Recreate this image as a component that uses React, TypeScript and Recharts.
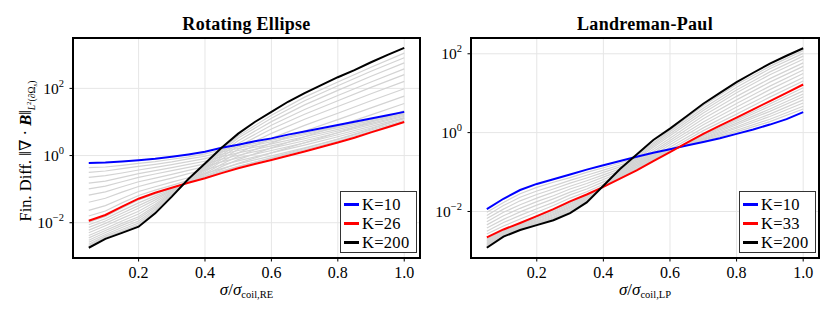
import React from 'react';
import { CartesianGrid, Legend, Line, LineChart, ReferenceArea, XAxis, YAxis } from 'recharts';

const FONT = "'Liberation Serif', 'DejaVu Serif', serif";

// sigma / sigma_coil, main series sampled every 0.05
const xs = [0.05, 0.1, 0.15, 0.2, 0.25, 0.3, 0.35, 0.4, 0.45, 0.5, 0.55, 0.6, 0.65, 0.7, 0.75, 0.8, 0.85, 0.9, 0.95, 1.0];
// grid used for the grey intermediate-K curves
const xsGray = [0.05, 0.1, 0.15, 0.2, 0.25, 0.3, 0.35, 0.4, 0.45, 0.5, 0.6, 0.7, 0.8, 0.9, 1.0];

const xTicks = [0.2, 0.4, 0.6, 0.8, 1.0];
const yTicks = [0.01, 1, 100];

// Rotating Ellipse
const blueRE = [0.6, 0.62, 0.66, 0.72, 0.8, 0.92, 1.08, 1.3, 1.7, 2.1, 2.65, 3.25, 4.2, 5.2, 6.5, 8.1, 10.1, 12.6, 15.8, 20];
const redRE = [0.0115, 0.017, 0.03, 0.052, 0.078, 0.11, 0.155, 0.21, 0.3, 0.42, 0.56, 0.74, 0.99, 1.32, 1.8, 2.45, 3.4, 4.9, 7.0, 10];
const blackRE = [0.0018, 0.0033, 0.005, 0.0076, 0.019, 0.06, 0.2, 0.58, 1.7, 4.5, 10, 20, 40, 72, 125, 215, 350, 600, 1000, 1600];

// grey curves, log10 of the value on xsGray
const grayExpRE = [
  [-0.36, -0.34, -0.29, -0.23, -0.18, -0.11, -0.04, 0.05, 0.17, 0.26, 0.46, 0.66, 0.87, 1.07, 1.28],
  [-0.5, -0.46, -0.39, -0.32, -0.26, -0.19, -0.1, -0.02, 0.11, 0.21, 0.41, 0.62, 0.83, 1.03, 1.25],
  [-0.65, -0.6, -0.52, -0.43, -0.35, -0.27, -0.18, -0.09, 0.04, 0.15, 0.35, 0.56, 0.78, 1.0, 1.23],
  [-0.82, -0.76, -0.65, -0.54, -0.45, -0.36, -0.26, -0.17, -0.03, 0.08, 0.29, 0.5, 0.73, 0.96, 1.2],
  [-0.99, -0.91, -0.78, -0.65, -0.55, -0.45, -0.35, -0.25, -0.11, 0.01, 0.22, 0.44, 0.68, 0.92, 1.17],
  [-1.18, -1.08, -0.93, -0.78, -0.67, -0.56, -0.44, -0.33, -0.19, -0.07, 0.15, 0.38, 0.62, 0.87, 1.13],
  [-1.39, -1.27, -1.09, -0.92, -0.79, -0.67, -0.54, -0.43, -0.28, -0.16, 0.08, 0.31, 0.56, 0.82, 1.1],
  [-1.63, -1.49, -1.28, -1.07, -0.93, -0.79, -0.66, -0.54, -0.39, -0.25, -0.01, 0.23, 0.48, 0.76, 1.05],
  [-1.8, -1.65, -1.41, -1.19, -1.03, -0.89, -0.74, -0.62, -0.46, -0.32, -0.08, 0.17, 0.43, 0.72, 1.02],
  [-1.98, -1.81, -1.56, -1.32, -1.14, -0.97, -0.8, -0.66, -0.48, -0.33, -0.06, 0.21, 0.49, 0.79, 1.11],
  [-2.06, -1.88, -1.64, -1.41, -1.2, -1.0, -0.79, -0.61, -0.41, -0.23, 0.08, 0.38, 0.68, 1.0, 1.33],
  [-2.14, -1.95, -1.72, -1.49, -1.26, -1.03, -0.78, -0.57, -0.33, -0.12, 0.23, 0.56, 0.88, 1.21, 1.55],
  [-2.22, -2.02, -1.79, -1.57, -1.32, -1.05, -0.77, -0.53, -0.26, -0.02, 0.37, 0.73, 1.07, 1.42, 1.77],
  [-2.3, -2.09, -1.87, -1.66, -1.38, -1.08, -0.76, -0.48, -0.18, 0.08, 0.51, 0.9, 1.26, 1.63, 1.99],
  [-2.38, -2.17, -1.95, -1.74, -1.45, -1.1, -0.75, -0.44, -0.11, 0.19, 0.66, 1.08, 1.46, 1.84, 2.21],
  [-2.45, -2.23, -2.02, -1.82, -1.5, -1.13, -0.74, -0.4, -0.04, 0.28, 0.79, 1.23, 1.63, 2.03, 2.41],
  [-2.52, -2.29, -2.08, -1.88, -1.55, -1.15, -0.73, -0.36, 0.02, 0.36, 0.9, 1.37, 1.79, 2.19, 2.58],
  [-2.58, -2.35, -2.14, -1.95, -1.6, -1.17, -0.72, -0.33, 0.08, 0.44, 1.01, 1.51, 1.94, 2.36, 2.76],
  [-2.64, -2.4, -2.2, -2.01, -1.64, -1.19, -0.71, -0.3, 0.13, 0.52, 1.11, 1.63, 2.08, 2.51, 2.91],
  [-2.68, -2.44, -2.25, -2.06, -1.68, -1.2, -0.71, -0.27, 0.18, 0.58, 1.2, 1.74, 2.19, 2.63, 3.05],
];

// Landreman-Paul
const blueLP = [0.0115, 0.021, 0.035, 0.05, 0.066, 0.087, 0.115, 0.148, 0.19, 0.245, 0.31, 0.38, 0.47, 0.58, 0.72, 0.93, 1.2, 1.6, 2.2, 3.3];
const redLP = [0.0022, 0.0035, 0.0051, 0.0076, 0.0115, 0.018, 0.027, 0.042, 0.068, 0.11, 0.19, 0.32, 0.55, 0.93, 1.5, 2.4, 3.9, 6.3, 10.2, 16.6];
const blackLP = [0.0012, 0.0023, 0.0034, 0.0045, 0.006, 0.0091, 0.017, 0.045, 0.12, 0.28, 0.65, 1.26, 2.6, 5.4, 10.2, 19, 33, 56, 89, 138];

const grayExpLP = [
  [-2.02, -1.77, -1.55, -1.39, -1.26, -1.14, -1.01, -0.89, -0.77, -0.65, -0.43, -0.22, 0.02, 0.28, 0.6],
  [-2.1, -1.85, -1.64, -1.48, -1.35, -1.21, -1.08, -0.95, -0.82, -0.69, -0.44, -0.19, 0.06, 0.34, 0.67],
  [-2.18, -1.94, -1.73, -1.57, -1.43, -1.28, -1.15, -1.01, -0.87, -0.73, -0.44, -0.17, 0.11, 0.41, 0.75],
  [-2.26, -2.02, -1.83, -1.66, -1.51, -1.36, -1.22, -1.07, -0.92, -0.76, -0.45, -0.15, 0.15, 0.47, 0.83],
  [-2.34, -2.11, -1.92, -1.75, -1.6, -1.43, -1.29, -1.13, -0.97, -0.8, -0.46, -0.13, 0.2, 0.54, 0.91],
  [-2.42, -2.2, -2.01, -1.84, -1.68, -1.51, -1.36, -1.19, -1.02, -0.84, -0.47, -0.1, 0.24, 0.6, 0.98],
  [-2.5, -2.28, -2.1, -1.93, -1.77, -1.58, -1.43, -1.25, -1.07, -0.88, -0.47, -0.08, 0.29, 0.67, 1.06],
  [-2.57, -2.37, -2.19, -2.02, -1.85, -1.66, -1.5, -1.31, -1.12, -0.92, -0.48, -0.06, 0.33, 0.73, 1.14],
  [-2.69, -2.48, -2.31, -2.14, -1.97, -1.77, -1.59, -1.38, -1.15, -0.92, -0.43, 0.05, 0.47, 0.9, 1.31],
  [-2.71, -2.5, -2.33, -2.17, -2.0, -1.8, -1.61, -1.37, -1.12, -0.88, -0.37, 0.12, 0.56, 0.99, 1.4],
  [-2.74, -2.51, -2.34, -2.19, -2.02, -1.83, -1.63, -1.37, -1.1, -0.84, -0.31, 0.2, 0.65, 1.09, 1.5],
  [-2.76, -2.53, -2.36, -2.21, -2.05, -1.86, -1.65, -1.37, -1.07, -0.8, -0.25, 0.27, 0.74, 1.18, 1.59],
  [-2.79, -2.55, -2.38, -2.24, -2.08, -1.89, -1.67, -1.37, -1.05, -0.76, -0.2, 0.35, 0.83, 1.28, 1.68],
  [-2.82, -2.57, -2.4, -2.26, -2.11, -1.92, -1.69, -1.36, -1.02, -0.71, -0.14, 0.43, 0.92, 1.37, 1.77],
  [-2.84, -2.59, -2.42, -2.28, -2.14, -1.95, -1.71, -1.36, -1.0, -0.67, -0.08, 0.5, 1.01, 1.47, 1.86],
  [-2.86, -2.6, -2.43, -2.3, -2.16, -1.97, -1.73, -1.36, -0.98, -0.64, -0.03, 0.56, 1.08, 1.54, 1.94],
  [-2.88, -2.62, -2.45, -2.32, -2.18, -2.0, -1.74, -1.35, -0.96, -0.61, 0.02, 0.62, 1.15, 1.62, 2.01],
  [-2.9, -2.63, -2.46, -2.33, -2.2, -2.02, -1.76, -1.35, -0.94, -0.58, 0.06, 0.68, 1.22, 1.68, 2.08],
];

const xDomain: [number, number] = [0.0025, 1.0475];
const yDomainRE: [number, number] = [Math.pow(10, -3.05), Math.pow(10, 3.5)];
const yDomainLP: [number, number] = [Math.pow(10, -3.18), Math.pow(10, 2.4)];

const pts = (vals: number[]) => xs.map((x, i) => ({ x, y: vals[i] }));
const grayPts = (exps: number[]) => xsGray.map((x, i) => ({ x, y: Math.pow(10, exps[i]) }));

const PowTick = (props: any) => {
  const { x, y, payload } = props;
  const e = Math.round(Math.log10(payload.value));
  return (
    <text x={x} y={y} dy={5.5} textAnchor="end" fontFamily={FONT} fontSize={15.5} fill="#000">
      <tspan>10</tspan>
      <tspan dy={-7} fontSize={10.5}>{e < 0 ? `\u2212${-e}` : `${e}`}</tspan>
    </text>
  );
};

const XTick = (props: any) => {
  const { x, y, payload } = props;
  return (
    <text x={x} y={y} dy={12} textAnchor="middle" fontFamily={FONT} fontSize={16} fill="#000">
      {Number(payload.value).toFixed(1)}
    </text>
  );
};

const LegendBox = ({ payload, order }: any) => {
  const items = (payload || [])
    .filter((p: any) => order.includes(p.value))
    .sort((a: any, b: any) => order.indexOf(a.value) - order.indexOf(b.value));
  return (
    <div
      style={{
        boxSizing: 'border-box',
        width: 77,
        height: 62,
        border: '1.3px solid #333',
        background: '#fff',
        padding: '3px 0 0 3px',
        fontFamily: FONT,
        fontSize: 16.5,
        lineHeight: '19px',
        color: '#000',
      }}
    >
      {items.map((p: any) => (
        <div key={p.value} style={{ display: 'flex', alignItems: 'center', whiteSpace: 'nowrap' }}>
          <span style={{ display: 'inline-block', width: 15, height: 2.2, background: p.color, marginRight: 3 }} />
          <span style={{ letterSpacing: 0.3 }}>{p.value}</span>
        </div>
      ))}
    </div>
  );
};

type PanelProps = {
  title: string;
  sub: string;
  blue: number[];
  red: number[];
  black: number[];
  gray: number[][];
  redLabel: string;
  yDomain: [number, number];
  width: number;
  margin: { top: number; right: number; bottom: number; left: number };
  yAxisWidth: number;
  legendLeft: number;
  yLabel?: boolean;
};

function Panel(p: PanelProps) {
  const cx = p.margin.left + p.yAxisWidth + (p.width - p.margin.left - p.yAxisWidth - p.margin.right) / 2;
  const order = ['K=10', p.redLabel, 'K=200'];
  return (
    <LineChart width={p.width} height={312} margin={p.margin}>
      <CartesianGrid stroke="#e6e6e6" strokeWidth={1} />
      <XAxis
        type="number"
        dataKey="x"
        domain={xDomain}
        ticks={xTicks}
        allowDataOverflow
        height={30}
        tickSize={3.5}
        tickMargin={4}
        axisLine={false}
        tickLine={{ stroke: '#000' }}
        tick={<XTick />}
      />
      <YAxis
        scale="log"
        domain={p.yDomain}
        ticks={yTicks}
        allowDataOverflow
        width={p.yAxisWidth}
        tickSize={3.5}
        tickMargin={5.5}
        axisLine={false}
        tickLine={{ stroke: '#000' }}
        tick={<PowTick />}
      />
      {p.gray.map((g, i) => (
        <Line
          key={`g${i}`}
          data={grayPts(g)}
          dataKey="y"
          type="linear"
          stroke="#d3d3d3"
          strokeWidth={1.2}
          dot={false}
          activeDot={false}
          legendType="none"
          isAnimationActive={false}
        />
      ))}
      <Line data={pts(p.blue)} dataKey="y" name="K=10" type="linear" stroke="#0000ff" strokeWidth={2} dot={false} activeDot={false} isAnimationActive={false} />
      <Line data={pts(p.red)} dataKey="y" name={p.redLabel} type="linear" stroke="#ff0000" strokeWidth={2} dot={false} activeDot={false} isAnimationActive={false} />
      <Line data={pts(p.black)} dataKey="y" name="K=200" type="linear" stroke="#000000" strokeWidth={2} dot={false} activeDot={false} isAnimationActive={false} />
      <ReferenceArea x1={xDomain[0]} x2={xDomain[1]} y1={p.yDomain[0]} y2={p.yDomain[1]} fill="none" stroke="#000" strokeWidth={2} ifOverflow="visible" />
      <Legend
        layout="horizontal"
        verticalAlign="middle"
        align="center"
        content={<LegendBox order={order} />}
        wrapperStyle={{ left: p.legendLeft, top: 191, width: 77, height: 62 }}
      />
      <text x={cx} y={30} textAnchor="middle" fontFamily={FONT} fontWeight="bold" fontSize={18} letterSpacing={0.3} fill="#000">
        {p.title}
      </text>
      <text x={cx} y={295} textAnchor="middle" fontFamily={FONT} fontSize={17} fill="#000">
        <tspan fontStyle="italic">σ</tspan>
        <tspan>/</tspan>
        <tspan fontStyle="italic">σ</tspan>
        <tspan fontSize={10.5} dy={3}>{p.sub}</tspan>
      </text>
      {p.yLabel && (
        <text transform="rotate(-90)" x={-151} y={31} textAnchor="middle" fontFamily={FONT} fontSize={16.5} fill="#000">
          <tspan>Fin. Diff. </tspan>
          <tspan>‖∇ · </tspan>
          <tspan fontWeight="bold" fontStyle="italic">B</tspan>
          <tspan>‖</tspan>
          <tspan fontSize={9.5} dy={4} fontStyle="italic">L</tspan>
          <tspan fontSize={7} dy={-4}>2</tspan>
          <tspan fontSize={9.5} dy={4}>(∂Ω</tspan>
          <tspan fontSize={7} dy={2} fontStyle="italic">s</tspan>
          <tspan fontSize={9.5} dy={-2}>)</tspan>
        </text>
      )}
    </LineChart>
  );
}

export default function App() {
  return (
    <div style={{ position: 'absolute', left: 0, top: 0, width: 830, height: 312, background: '#fff' }}>
      <div style={{ position: 'absolute', left: 0, top: 0 }}>
        <Panel
          title="Rotating Ellipse"
          sub="coil,RE"
          blue={blueRE}
          red={redRE}
          black={blackRE}
          gray={grayExpRE}
          redLabel="K=26"
          yDomain={yDomainRE}
          width={425}
          margin={{ top: 38, right: 5, bottom: 24, left: 10 }}
          yAxisWidth={63}
          legendLeft={340}
          yLabel
        />
      </div>
      <div style={{ position: 'absolute', left: 425, top: 0 }}>
        <Panel
          title="Landreman-Paul"
          sub="coil,LP"
          blue={blueLP}
          red={redLP}
          black={blackLP}
          gray={grayExpLP}
          redLabel="K=33"
          yDomain={yDomainLP}
          width={405}
          margin={{ top: 38, right: 11, bottom: 24, left: 6 }}
          yAxisWidth={40}
          legendLeft={314}
        />
      </div>
    </div>
  );
}
